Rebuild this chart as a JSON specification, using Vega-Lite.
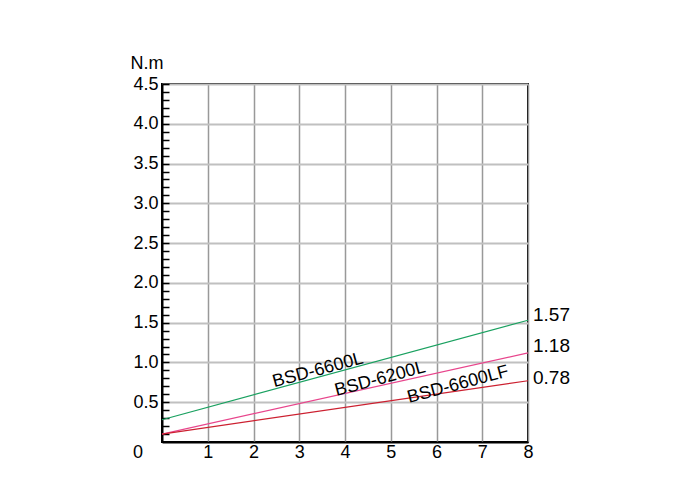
{
  "$schema": "https://vega.github.io/schema/vega-lite/v6.json",
  "width": 366,
  "height": 358,
  "autosize": "none",
  "padding": {"left": 162, "top": 84, "right": 172, "bottom": 56},
  "background": "white",
  "config": {
    "view": {"stroke": "black", "strokeWidth": 2},
    "font": "Liberation Sans",
    "axis": {"labelFont": "Liberation Sans", "labelFontSize": 18, "labelColor": "black", "titleFont": "Liberation Sans", "labelOverlap": false, "labelFlush": false}
  },
  "datasets": {
    "lines": [
      {"model": "BSD-6600L", "speed": 0, "torque": 0.28},
      {"model": "BSD-6600L", "speed": 8, "torque": 1.53},
      {"model": "BSD-6200L", "speed": 0, "torque": 0.1},
      {"model": "BSD-6200L", "speed": 8, "torque": 1.12},
      {"model": "BSD-6600LF", "speed": 0, "torque": 0.1},
      {"model": "BSD-6600LF", "speed": 8, "torque": 0.77}
    ],
    "ends": [
      {"label": "1.57", "speed": 8, "torque": 1.57},
      {"label": "1.18", "speed": 8, "torque": 1.18},
      {"label": "0.78", "speed": 8, "torque": 0.78}
    ],
    "names": [
      {"label": "BSD-6600L", "speed": 3.41, "torque": 0.9},
      {"label": "BSD-6200L", "speed": 4.77, "torque": 0.79},
      {"label": "BSD-6600LF", "speed": 6.47, "torque": 0.72}
    ],
    "origin": [{"label": "0", "speed": 0, "torque": 0}]
  },
  "encoding": {
    "x": {
      "field": "speed", "type": "quantitative",
      "scale": {"domain": [0, 8], "nice": false, "zero": true},
      "axis": {
        "title": null, "values": [1, 2, 3, 4, 5, 6, 7, 8], "tickCount": 100, "format": "d",
        "grid": true, "gridColor": "#999999", "gridWidth": 1.5,
        "ticks": false, "domainColor": "black", "domainWidth": 2,
        "labelPadding": 1, "labelBaseline": "top"
      }
    },
    "y": {
      "field": "torque", "type": "quantitative",
      "scale": {"domain": [0, 4.5], "nice": false},
      "axis": {
        "title": "N.m", "titleAngle": 0, "titleAlign": "left", "titleBaseline": "alphabetic",
        "titleX": -32, "titleY": -16, "titleFontSize": 18, "titleFontWeight": "normal", "titleColor": "black",
        "tickCount": 100,
        "values": [0.1,0.2,0.3,0.4,0.5,0.6,0.7,0.8,0.9,1.0,1.1,1.2,1.3,1.4,1.5,1.6,1.7,1.8,1.9,2.0,2.1,2.2,2.3,2.4,2.5,2.6,2.7,2.8,2.9,3.0,3.1,3.2,3.3,3.4,3.5,3.6,3.7,3.8,3.9,4.0,4.1,4.2,4.3,4.4,4.5],
        "labelExpr": "round(datum.value*10) % 5 == 0 ? format(datum.value, '.1f') : ''",
        "grid": true, "gridColor": "#c0c0c0", "gridWidth": 2,
        "gridOpacity": {"condition": {"test": "round(datum.value*10) % 5 == 0", "value": 1}, "value": 0},
        "tickSize": -7, "tickColor": "black", "tickWidth": 1.5,
        "domainColor": "black", "domainWidth": 2,
        "labelPadding": 11
      }
    }
  },
  "layer": [
    {
      "data": {"name": "lines"},
      "mark": {"type": "line", "strokeWidth": 1.2},
      "encoding": {
        "color": {
          "field": "model", "type": "nominal",
          "scale": {"domain": ["BSD-6600L", "BSD-6200L", "BSD-6600LF"], "range": ["#1aa160", "#e8458c", "#cc2030"]},
          "legend": null
        }
      }
    },
    {
      "data": {"name": "ends"},
      "mark": {"type": "text", "align": "left", "baseline": "middle", "dx": 5, "dy": -2, "fontSize": 19, "color": "black"},
      "encoding": {"text": {"field": "label"}}
    },
    {
      "data": {"name": "names"},
      "mark": {"type": "text", "align": "center", "baseline": "middle", "angle": 345, "fontSize": 18, "color": "black"},
      "encoding": {"text": {"field": "label"}}
    },
    {
      "data": {"name": "origin"},
      "mark": {"type": "text", "align": "center", "baseline": "middle", "dx": -24, "dy": 11, "fontSize": 18, "color": "black"},
      "encoding": {"text": {"field": "label"}}
    }
  ]
}
